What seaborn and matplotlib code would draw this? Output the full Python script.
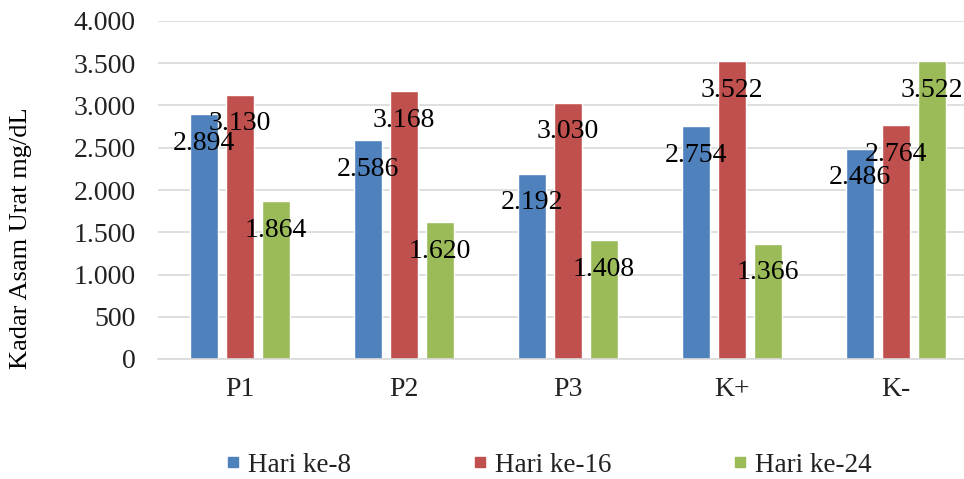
import matplotlib
matplotlib.use("Agg")
import matplotlib.pyplot as plt
from matplotlib.lines import Line2D
import seaborn as sns
import pandas as pd

# Uric acid levels per treatment group and sampling day
groups = ["P1", "P2", "P3", "K+", "K-"]
series = ["Hari ke-8", "Hari ke-16", "Hari ke-24"]
day8 = [2894, 2586, 2192, 2754, 2486]
day16 = [3130, 3168, 3030, 3522, 2764]
day24 = [1864, 1620, 1408, 1366, 3522]
yticks = [0, 500, 1000, 1500, 2000, 2500, 3000, 3500, 4000]
colors = ["#4F81BD", "#C0504D", "#9BBB59"]
ylabel = "Kadar Asam Urat mg/dL"

values = [day8, day16, day24]
df = pd.DataFrame({
    "group": [g for _ in series for g in groups],
    "series": [s for s in series for _ in groups],
    "value": [v for vals in values for v in vals],
})


def fmt(v):
    return f"{v:,}".replace(",", ".")


sns.set_theme(style="white")
plt.rcParams["font.family"] = ["Liberation Serif", "DejaVu Serif"]
FS = 20

W, H = 964, 479
fig = plt.figure(figsize=(W / 100, H / 100), dpi=100)
ax = fig.add_axes([158 / W, 120 / H, 820 / W, 338 / H])

sns.barplot(data=df, x="group", y="value", hue="series", order=groups,
            hue_order=series, palette=colors, saturation=1, width=0.66,
            gap=0.21, legend=False, errorbar=None, ax=ax)

ax.set_ylim(0, 4000)
ax.set_xlim(-0.5, len(groups) - 0.5)
ax.set_yticks(yticks)
ax.set_yticklabels([fmt(t) for t in yticks])
ax.yaxis.grid(True, color="#D9D9D9", linewidth=1.2)
ax.set_axisbelow(True)
for side in ["left", "right", "top"]:
    ax.spines[side].set_visible(False)
ax.spines["bottom"].set_color("#D9D9D9")
ax.spines["bottom"].set_linewidth(1.2)
ax.tick_params(axis="both", length=0, labelsize=FS, colors="#222222")
ax.tick_params(axis="y", pad=16)
ax.tick_params(axis="x", pad=13)
ax.set_xlabel("")
ax.set_ylabel("")

# value labels just below the top of each bar
for container, vals in zip(ax.containers, values):
    for bar, v in zip(container, vals):
        ax.annotate(fmt(v), (bar.get_x() + bar.get_width() / 2, v),
                    xytext=(0, -29), textcoords="offset pixels",
                    ha="center", va="center", fontsize=FS, color="black")

fig.text(21 / W, 1 - 238 / H, ylabel, rotation=90, ha="center",
         va="center", fontsize=19, color="black")

handles = [Line2D([], [], marker="s", linestyle="none", markersize=7,
                  markerfacecolor=c, markeredgecolor=c) for c in colors]
fig.legend(handles, series, loc="center", bbox_to_anchor=(549 / W, 1 - 465 / H),
           ncol=3, frameon=False, fontsize=19.5, handlelength=0.5,
           handletextpad=0.3, columnspacing=4.5, labelcolor="#222222")

fig.savefig("out.png", dpi=100)
